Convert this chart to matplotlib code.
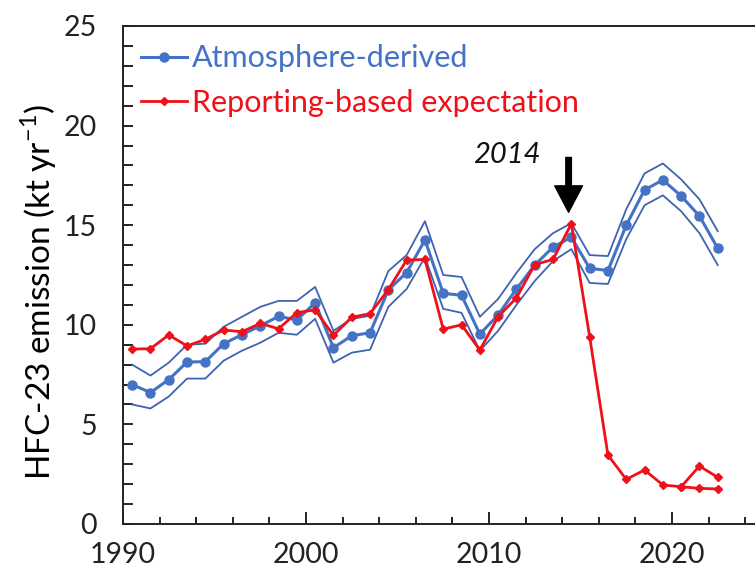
import matplotlib
matplotlib.use("Agg")
import matplotlib.pyplot as plt
from matplotlib.ticker import MultipleLocator
import numpy as np

plt.rcParams['font.family'] = ['Lato', 'DejaVu Sans']
plt.rcParams['mathtext.fontset'] = 'custom'
plt.rcParams['mathtext.rm'] = 'Lato'

years = list(range(1990, 2023))
atmos = [7.0, 6.6, 7.25, 8.13, 8.15, 9.05, 9.5, 9.95, 10.42, 10.25, 11.1,
         8.85, 9.45, 9.6, 11.75, 12.62, 14.26, 11.58, 11.48, 9.53, 10.5,
         11.8, 13.0, 13.9, 14.4, 12.84, 12.72, 15.0, 16.77, 17.27, 16.47,
         15.46, 13.84]
atmos_upper = [8.0, 7.45, 8.1, 9.0, 9.05, 9.9, 10.4, 10.9, 11.2, 11.2, 11.9,
               9.7, 10.3, 10.45, 12.7, 13.5, 15.2, 12.5, 12.4, 10.4, 11.3,
               12.6, 13.8, 14.6, 15.1, 13.5, 13.45, 15.8, 17.6, 18.1, 17.3,
               16.3, 14.7]
atmos_lower = [6.0, 5.8, 6.4, 7.3, 7.3, 8.2, 8.7, 9.1, 9.6, 9.5, 10.3,
               8.1, 8.6, 8.75, 10.9, 11.8, 13.4, 10.8, 10.6, 8.7, 9.7,
               11.0, 12.2, 13.2, 13.8, 12.1, 12.05, 14.3, 16.0, 16.5, 15.7,
               14.6, 13.0]
report = [8.78, 8.8, 9.49, 8.94, 9.27, 9.74, 9.65, 10.07, 9.8, 10.61, 10.75,
          9.47, 10.38, 10.56, 11.77, 13.25, 13.28, 9.78, 10.0, 8.73, 10.41,
          11.35, 13.02, 13.28, 15.08, 9.4, 3.46, 2.24, 2.71, 1.96, 1.87,
          2.91, 2.34]
branch_years = [2020, 2021, 2022]
report_branch = [1.87, 1.79, 1.76]

xt = np.array(years) + 0.5
xb = np.array(branch_years) + 0.5

blue = '#4472C4'
band = '#3F63B0'
red = '#F0101A'

fig = plt.figure(figsize=(7.55, 5.81), dpi=100)
ax = fig.add_axes([123/755, 1-524/581, 1-123/755, (524-26)/581])

ax.plot(xt, atmos_upper, color=band, lw=1.3, zorder=2)
ax.plot(xt, atmos_lower, color=band, lw=1.3, zorder=2)
ax.plot(xt, atmos, color=blue, lw=2.2, marker='o', ms=6.5, zorder=3,
        label='Atmosphere-derived')
ax.plot(xt, report, color=red, lw=2.0, marker='D', ms=4.5, zorder=4,
        label='Reporting-based expectation')
ax.plot(xb, report_branch, color=red, lw=2.0, marker='D', ms=4.5, zorder=4)

ax.set_xlim(1990, 1990 + 632/18.3)
ax.set_ylim(0, 25)
ax.xaxis.set_major_locator(MultipleLocator(10))
ax.xaxis.set_minor_locator(MultipleLocator(2))
ax.yaxis.set_major_locator(MultipleLocator(5))
ax.yaxis.set_minor_locator(MultipleLocator(1))
ax.tick_params(axis='both', which='both', direction='in', width=1.2,
               labelsize=20.5, colors='black', top=False, right=False)
ax.tick_params(axis='x', which='major', length=9, pad=13)
ax.tick_params(axis='x', which='minor', length=5)
ax.tick_params(axis='y', which='major', length=7, pad=19)
ax.tick_params(axis='y', which='minor', length=7)
for lab in ax.get_xticklabels() + ax.get_yticklabels():
    lab.set_color('#222222')

ax.spines['right'].set_visible(False)
for s in ['left', 'bottom', 'top']:
    ax.spines[s].set_linewidth(1.4)
    ax.spines[s].set_color('#222222')

ax.set_ylabel('HFC-23 emission (kt yr$^{-1}$)', fontsize=24)
ax.yaxis.set_label_coords(-0.102, 0.466)

leg = ax.legend(loc='upper left', bbox_to_anchor=(0.0, 1.0), frameon=False,
                fontsize=22, handlelength=1.5, handletextpad=0.15,
                labelspacing=0.55, borderaxespad=0.2)
for t, c in zip(leg.get_texts(), [blue, red]):
    t.set_color(c)

ax.annotate('', xy=(2014.35, 15.65), xytext=(2014.35, 18.4),
            arrowprops=dict(facecolor='black', edgecolor='black', width=4,
                            headwidth=20, headlength=19, shrink=0))
ax.text(2011.0, 18.5, '2014', fontsize=21, style='italic', ha='center',
        va='center', color='#111111')

fig.savefig('out.png', dpi=100)
